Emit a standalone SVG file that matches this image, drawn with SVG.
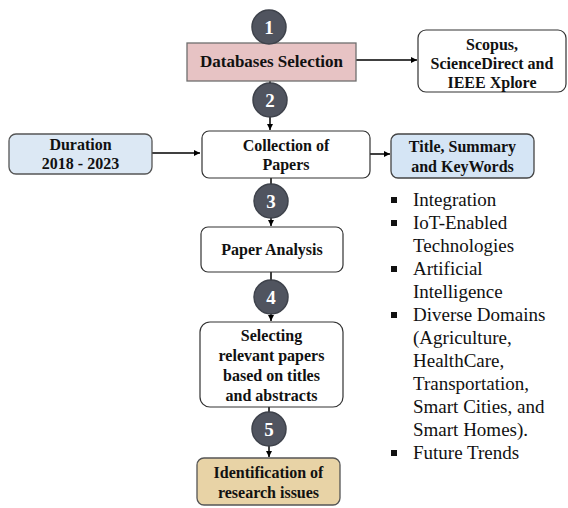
<svg xmlns="http://www.w3.org/2000/svg" width="568" height="508" viewBox="0 0 568 508">
<defs>
<style>
.t{font-family:'Liberation Serif','DejaVu Serif',serif;font-weight:bold;font-size:16px;fill:#111;text-anchor:middle}
.l{font-family:'Liberation Serif','DejaVu Serif',serif;font-size:19px;fill:#111}
.n{font-family:'Liberation Serif','DejaVu Serif',serif;font-weight:bold;font-size:19px;fill:#fff;text-anchor:middle}
.c{fill:#50545f;stroke:#3e424b;stroke-width:1.5}
.e{stroke:#000;stroke-width:1.5;fill:none;marker-end:url(#ah)}
.w{fill:#fff;stroke:#333;stroke-width:1.2}
</style>
<marker id="ah" viewBox="0 0 10 10" refX="10" refY="5" markerWidth="6" markerHeight="6" orient="auto" markerUnits="userSpaceOnUse">
<path d="M0,0L10,5L0,10z" fill="#000"/>
</marker>
</defs>
<g id="connectors">
<path class="e" d="M270,81V130"/>
<path class="e" d="M271,178V226"/>
<path class="e" d="M271,272V321"/>
<path class="e" d="M269,407V457"/>
<path class="e" d="M356,60H417"/>
<path class="e" d="M152,153H200"/>
<path class="e" d="M370,154H390"/>
</g>
<g id="db">
<rect x="187" y="43" width="169" height="38" fill="#e7c3c4" stroke="#6f6f6f" stroke-width="1.3"/>
<text class="t" x="271.5" y="67" style="font-size:17px">Databases Selection</text>
</g>
<g id="scopus">
<rect class="w" x="418" y="30" width="148" height="62" rx="8"/>
<text class="t" x="492" y="50">Scopus,</text>
<text class="t" x="492" y="69">ScienceDirect and</text>
<text class="t" x="492" y="88">IEEE Xplore</text>
</g>
<g id="duration">
<rect x="9" y="134" width="143" height="40" rx="7" fill="#dce8f4" stroke="#555" stroke-width="1.3"/>
<text class="t" x="80.5" y="150">Duration</text>
<text class="t" x="80.5" y="169">2018 - 2023</text>
</g>
<g id="collection">
<rect class="w" x="202" y="131" width="168" height="47" rx="7"/>
<text class="t" x="286" y="151">Collection of</text>
<text class="t" x="286" y="170">Papers</text>
</g>
<g id="title">
<rect x="391" y="134" width="143" height="44" rx="7" fill="#d5e5f5" stroke="#444" stroke-width="1.3"/>
<text class="t" x="462.5" y="152">Title, Summary</text>
<text class="t" x="462.5" y="172">and KeyWords</text>
</g>
<g id="analysis">
<rect class="w" x="201" y="227" width="142" height="45" rx="7"/>
<text class="t" x="272" y="255">Paper Analysis</text>
</g>
<g id="selecting">
<rect class="w" x="200" y="322" width="143" height="85" rx="10"/>
<text class="t" x="271.5" y="341">Selecting</text>
<text class="t" x="271.5" y="361">relevant papers</text>
<text class="t" x="271.5" y="381">based on titles</text>
<text class="t" x="271.5" y="401">and abstracts</text>
</g>
<g id="identification">
<rect x="197" y="458" width="143" height="47" rx="7" fill="#e8d3a6" stroke="#555" stroke-width="1.3"/>
<text class="t" x="268.5" y="478">Identification of</text>
<text class="t" x="268.5" y="498">research issues</text>
</g>
<g id="n1"><circle class="c" cx="269" cy="27" r="17"/><text class="n" x="269" y="34">1</text></g>
<g id="n2"><circle class="c" cx="270" cy="100" r="17"/><text class="n" x="270" y="107">2</text></g>
<g id="n3"><circle class="c" cx="271" cy="201" r="17"/><text class="n" x="271" y="208">3</text></g>
<g id="n4"><circle class="c" cx="271" cy="297" r="17"/><text class="n" x="271" y="304">4</text></g>
<g id="n5"><circle class="c" cx="269" cy="429" r="17"/><text class="n" x="269" y="436">5</text></g>
<g id="list">
<rect x="391" y="197" width="6" height="6" fill="#111"/>
<rect x="391" y="220" width="6" height="6" fill="#111"/>
<rect x="391" y="266" width="6" height="6" fill="#111"/>
<rect x="391" y="312" width="6" height="6" fill="#111"/>
<rect x="391" y="450" width="6" height="6" fill="#111"/>
<text class="l" x="413" y="206">Integration</text>
<text class="l" x="413" y="229">IoT-Enabled</text>
<text class="l" x="413" y="252">Technologies</text>
<text class="l" x="413" y="275">Artificial</text>
<text class="l" x="413" y="298">Intelligence</text>
<text class="l" x="413" y="321">Diverse Domains</text>
<text class="l" x="413" y="344">(Agriculture,</text>
<text class="l" x="413" y="367">HealthCare,</text>
<text class="l" x="413" y="390">Transportation,</text>
<text class="l" x="413" y="413">Smart Cities, and</text>
<text class="l" x="413" y="436">Smart Homes).</text>
<text class="l" x="413" y="459">Future Trends</text>
</g>
</svg>
